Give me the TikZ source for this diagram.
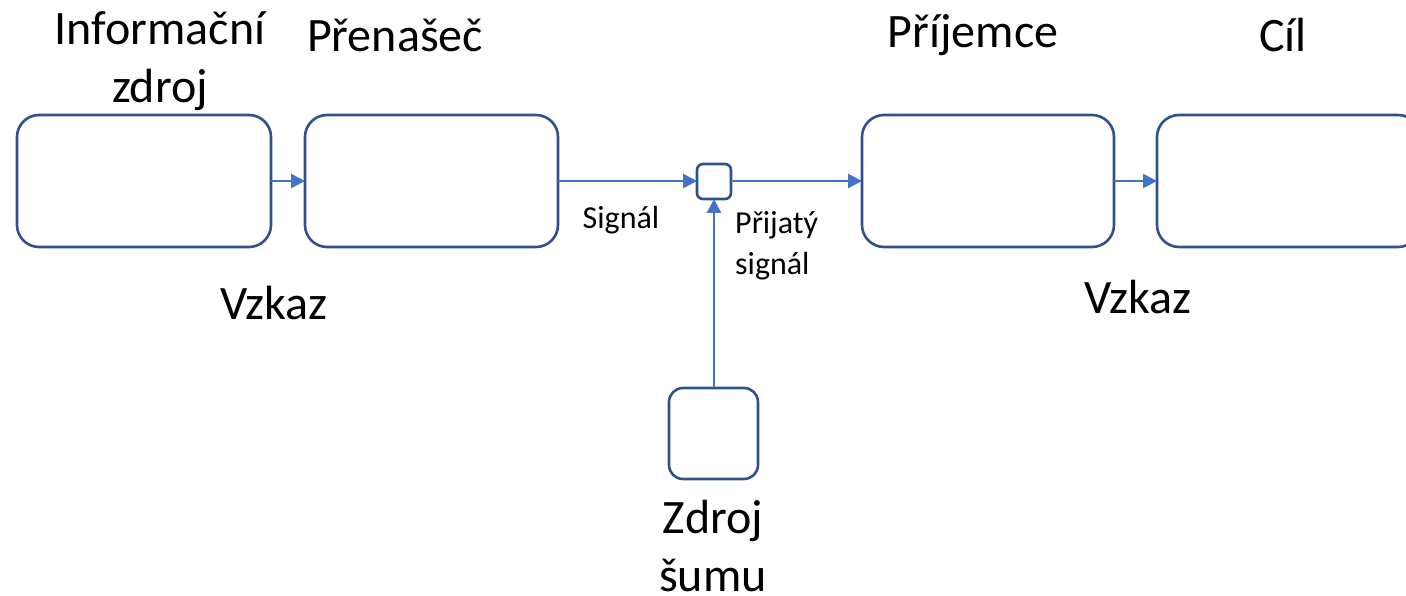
\documentclass[tikz,border=0pt]{standalone}
\usepackage{fontspec}
\setmainfont{Carlito}
\usetikzlibrary{arrows.meta}
\definecolor{bord}{HTML}{2F528F}
\definecolor{arr}{HTML}{4472C4}
\begin{document}
\begin{tikzpicture}[x=1pt,y=-1pt,
  box/.style={draw=bord,line width=2.6pt,rounded corners=22pt,fill=white},
  sbox/.style={draw=bord,line width=2.6pt,rounded corners=6pt,fill=white},
  conn/.style={draw=arr,line width=2.8pt,-{Triangle[length=14pt,width=14pt]}},
  big/.style={font=\fontsize{48}{58}\selectfont,align=center,inner sep=0pt},
  small/.style={font=\fontsize{32}{41}\selectfont,align=left,inner sep=0pt}]
\useasboundingbox (0,0) rectangle (1406,596);
\draw[box] (17,115) rectangle (271,247);
\draw[box] (305,115) rectangle (558,247);
\draw[box] (862,115) rectangle (1114,247);
\draw[box] (1157,115) rectangle (1420,247);
\draw[sbox] (697,164) rectangle (731,199);
\draw[box,rounded corners=14pt] (669,388) rectangle (758,479);
\coordinate (a1) at (271,181); \coordinate (a2) at (305,181);
\coordinate (s1) at (558,181); \coordinate (s2) at (697,181);
\coordinate (r1) at (731,181); \coordinate (r2) at (862,181);
\coordinate (c1) at (1114,181); \coordinate (c2) at (1157,181);
\coordinate (n1) at (714,388); \coordinate (n2) at (714,199);
\draw[conn] (a1) -- (a2);
\draw[conn] (s1) -- (s2);
\draw[conn] (r1) -- (r2);
\draw[conn] (c1) -- (c2);
\draw[conn] (n1) -- (n2);
\node[big] (t1) at (160,61) {Informační\\zdroj};
\node[big] (t2) at (395,35) {Přenašeč};
\node[big] (t3) at (973,35) {Příjemce};
\node[big] (t4) at (1283,35) {Cíl};
\node[big] (v1) at (274,303) {Vzkaz};
\node[big] (v2) at (1138,297) {Vzkaz};
\node[big] (z) at (713,546) {Zdroj\\šumu};
\node[small] (sg) at (621,220) {Signál};
\node[small,anchor=west] (ps) at (735,246) {Přijatý\\signál};
\end{tikzpicture}
\end{document}
